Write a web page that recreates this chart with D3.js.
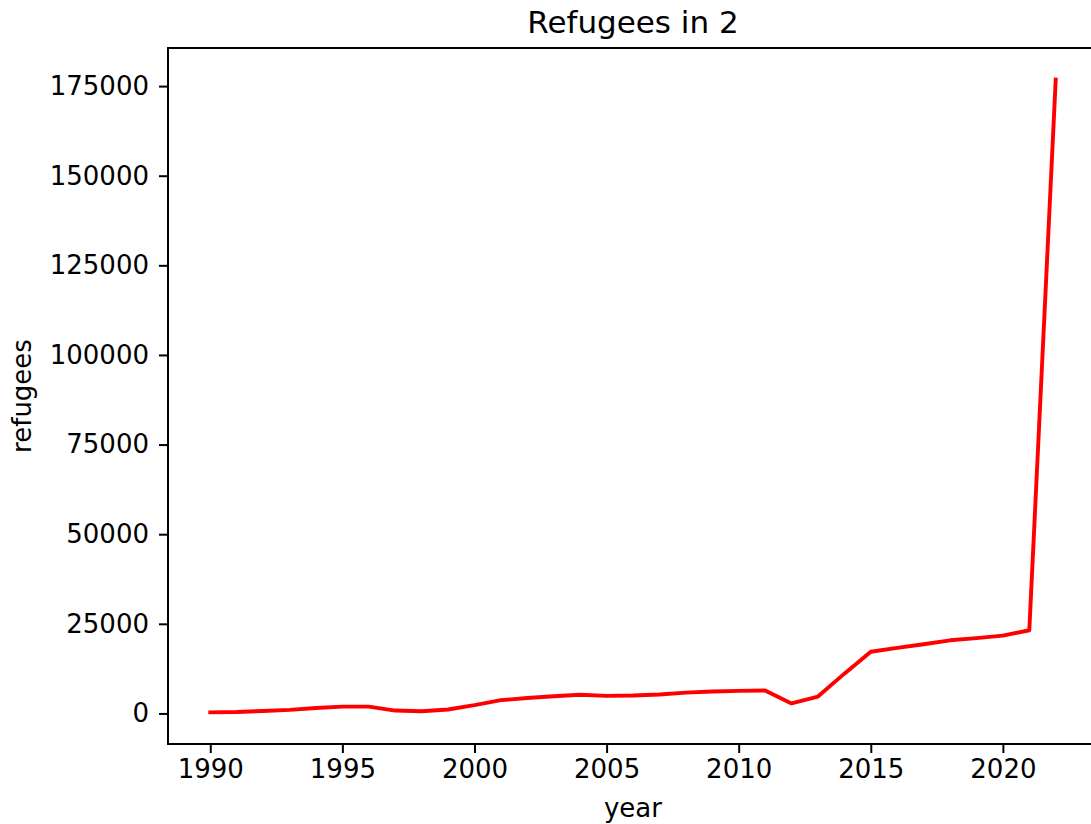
<!DOCTYPE html>
<html>
<head>
<meta charset="utf-8">
<script src="https://cdn.jsdelivr.net/npm/d3@7"></script>
<style>
    body { margin: 0; background: #fff; }
    text { font-family: "DejaVu Sans", sans-serif; fill: #000; }
</style>
</head>
<body>
<div id="wrapper"></div>
<script>
const years = [1990, 1991, 1992, 1993, 1994, 1995, 1996, 1997, 1998, 1999,
    2000, 2001, 2002, 2003, 2004, 2005, 2006, 2007, 2008, 2009,
    2010, 2011, 2012, 2013, 2014, 2015, 2016, 2017, 2018, 2019,
    2020, 2021, 2022]
const refugees = [300, 400, 700, 1000, 1500, 1900, 1900, 800, 600, 1100,
    2300, 3700, 4300, 4800, 5200, 4900, 5000, 5300, 5800, 6100,
    6300, 6400, 2800, 4700, 11100, 17200, 18300, 19300, 20400, 21000,
    21700, 23200, 176800]
const xTicks = [1990, 1995, 2000, 2005, 2010, 2015, 2020]
const yTicks = [0, 25000, 50000, 75000, 100000, 125000, 150000, 175000]
const title = "Refugees in 2"
const xLabel = "year"
const yLabel = "refugees"

function drawLine() {
    const dataset = years.map((y, i) => ({ year: y, value: refugees[i] }))

    let dimensions = {
        width: 1091,
        height: 824,
        margin: { top: 48, right: -7, bottom: 80, left: 168 },
    }
    dimensions.boundedWidth = dimensions.width
        - dimensions.margin.left
        - dimensions.margin.right
    dimensions.boundedHeight = dimensions.height
        - dimensions.margin.top
        - dimensions.margin.bottom

    const fontSize = 26
    const tickLen = 9
    const strokeW = 2

    const wrapper = d3.select("#wrapper")
        .append("svg")
        .attr("width", dimensions.width)
        .attr("height", dimensions.height)

    const bounds = wrapper.append("g")
        .attr("transform", `translate(${dimensions.margin.left},${dimensions.margin.top})`)

    // matplotlib-like 5% padding
    const xExt = d3.extent(dataset, d => d.year)
    const yExt = d3.extent(dataset, d => d.value)
    const xPad = (xExt[1] - xExt[0]) * 0.05
    const yPad = (yExt[1] - yExt[0]) * 0.05

    const xScaler = d3.scaleLinear()
        .domain([xExt[0] - xPad, xExt[1] + xPad])
        .range([0, dimensions.boundedWidth])
    const yScaler = d3.scaleLinear()
        .domain([yExt[0] - yPad, yExt[1] + yPad])
        .range([dimensions.boundedHeight, 0])

    const lineGen = d3.line()
        .x(d => xScaler(d.year))
        .y(d => yScaler(d.value))

    bounds.append("path")
        .datum(dataset)
        .attr("d", lineGen)
        .attr("fill", "none")
        .attr("stroke", "#ff0000")
        .attr("stroke-width", 3.9)
        .attr("stroke-linejoin", "round")
        .attr("stroke-linecap", "square")

    // axes
    const xAxisGen = d3.axisBottom(xScaler)
        .tickValues(xTicks)
        .tickFormat(d3.format("d"))
        .tickSize(tickLen)
        .tickPadding(7)
    const xAxis = bounds.append("g")
        .attr("transform", `translate(0,${dimensions.boundedHeight})`)
        .call(xAxisGen)

    const yAxisGen = d3.axisLeft(yScaler)
        .tickValues(yTicks)
        .tickFormat(d3.format("d"))
        .tickSize(tickLen)
        .tickPadding(10)
    const yAxis = bounds.append("g")
        .call(yAxisGen)

    ;[xAxis, yAxis].forEach(ax => {
        ax.select(".domain").remove()
        ax.selectAll(".tick line").attr("stroke", "#000").attr("stroke-width", strokeW)
        ax.selectAll(".tick text")
            .style("font-size", fontSize + "px")
            .style("font-family", "'DejaVu Sans', sans-serif")
            .attr("fill", "#000")
    })

    // frame
    bounds.append("rect")
        .attr("width", dimensions.boundedWidth)
        .attr("height", dimensions.boundedHeight)
        .attr("fill", "none")
        .attr("stroke", "#000")
        .attr("stroke-width", strokeW)

    // labels
    wrapper.append("text")
        .attr("x", dimensions.margin.left + dimensions.boundedWidth / 2)
        .attr("y", 33)
        .attr("text-anchor", "middle")
        .style("font-size", "31px")
        .text(title)

    wrapper.append("text")
        .attr("x", dimensions.margin.left + dimensions.boundedWidth / 2)
        .attr("y", 817)
        .attr("text-anchor", "middle")
        .style("font-size", fontSize + "px")
        .text(xLabel)

    wrapper.append("text")
        .attr("transform", `translate(31,${dimensions.margin.top + dimensions.boundedHeight / 2}) rotate(-90)`)
        .attr("text-anchor", "middle")
        .style("font-size", fontSize + "px")
        .text(yLabel)
}

drawLine()
</script>
</body>
</html>
